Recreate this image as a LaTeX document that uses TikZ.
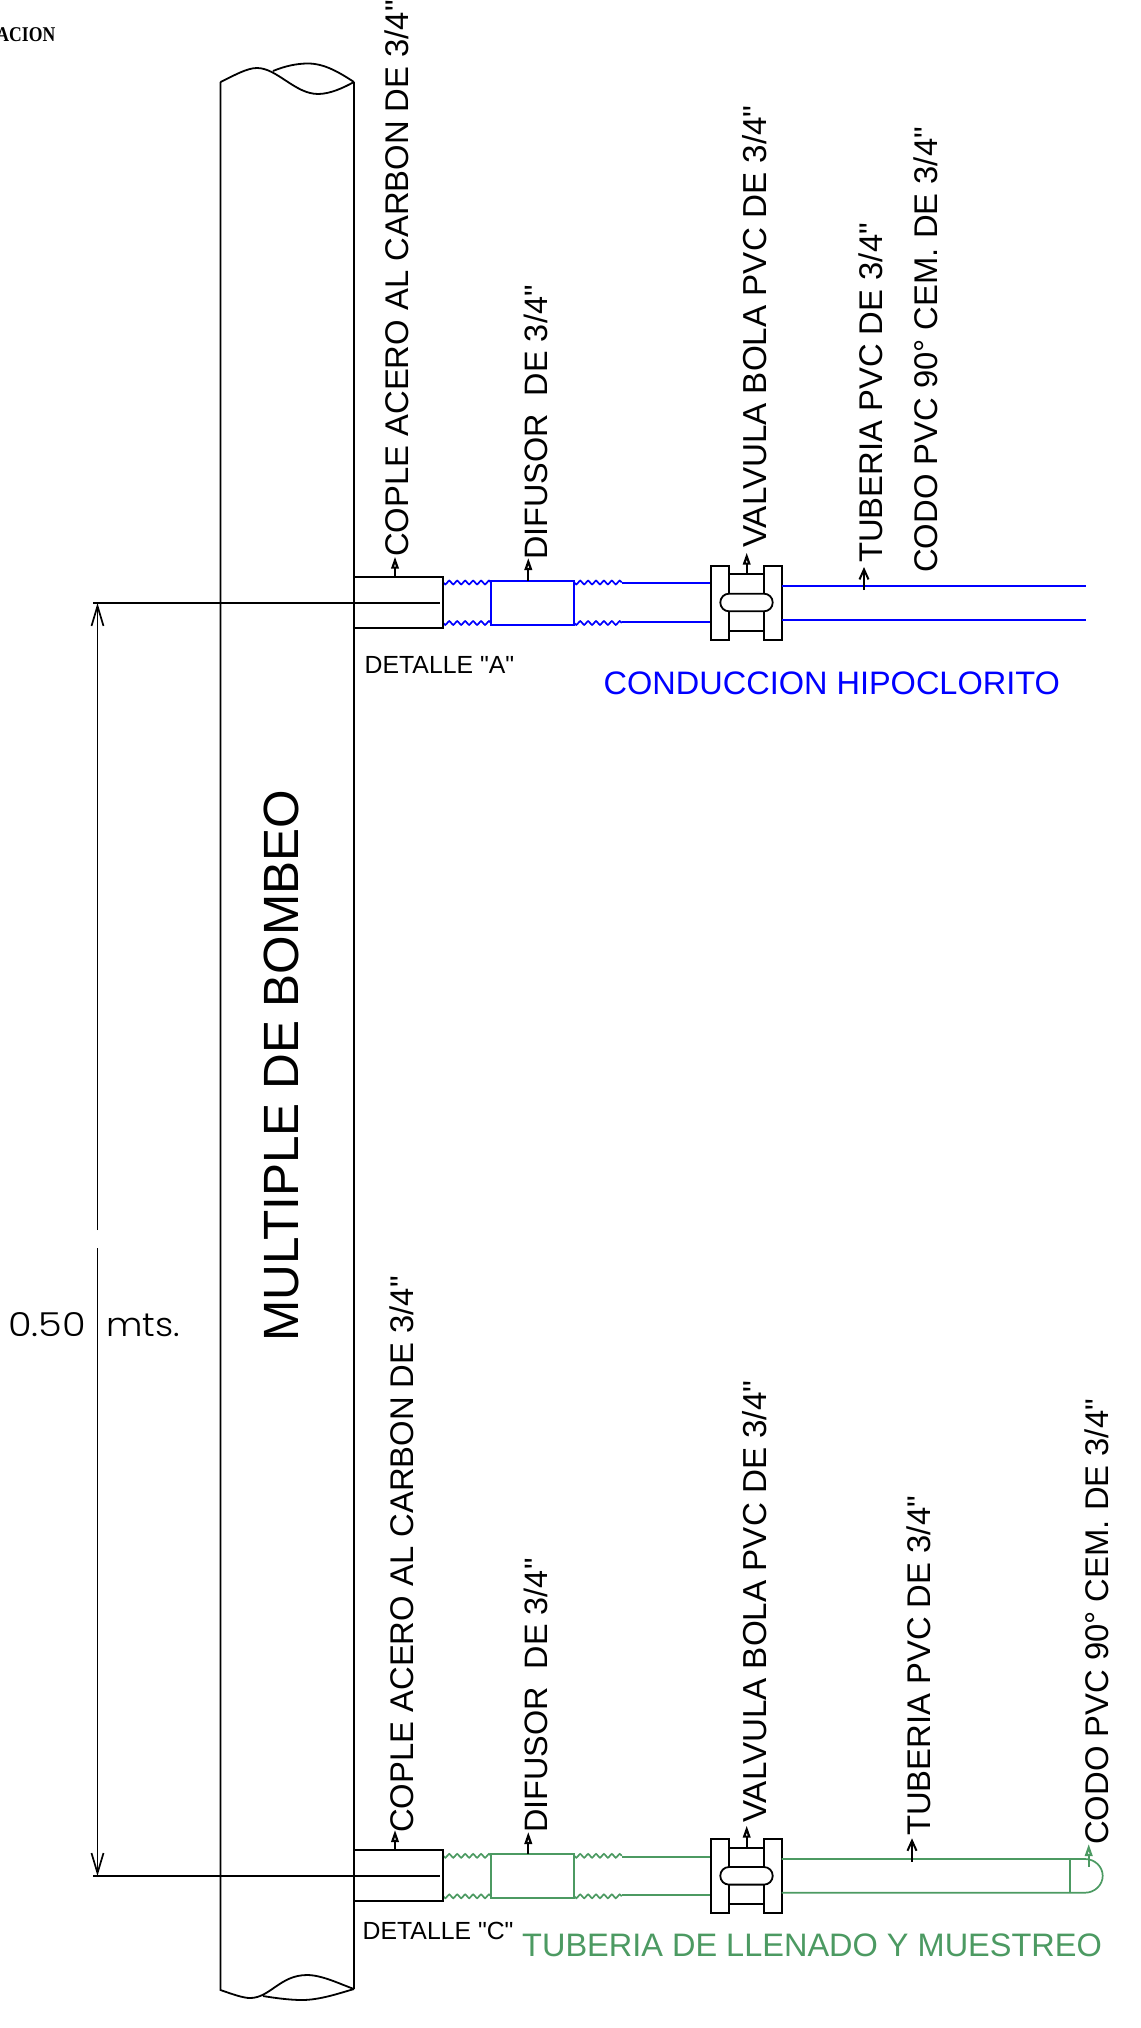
\documentclass[tikz,border=0pt]{standalone}
\usepackage{fontspec}
\usepackage{graphicx}
\newfontfamily\arialf{Liberation Sans}
\setmainfont{Liberation Sans}
\newfontfamily\serifb[BoldFont=Liberation Serif Bold]{Liberation Serif}
\newfontfamily\thinf[UprightFont=* Light]{Poppins}
\usetikzlibrary{arrows.meta}
\definecolor{conduct}{RGB}{0,0,255}
\definecolor{llenado}{RGB}{76,154,98}
\tikzset{
  x=1pt,y=-1pt,
  part/.style={line width=1.8pt,black},
  pipe/.style={line width=1.7pt},
  leader/.style={line width=1.7pt,-{Triangle[open,length=12pt,width=7.5pt,line width=2.2pt]}},
  openlead/.style={line width=1.7pt,-{Straight Barb[length=10pt,width=9pt,line width=2pt]}},
  dimline/.style={line width=1.7pt},
  lbl/.style={inner sep=0pt,rotate=90,anchor=base west,font=\arialf\fontsize{32.8}{33}\selectfont},
  vlbl/.style={lbl,font=\arialf\fontsize{33.2}{34}\selectfont},
  dlbl/.style={lbl,font=\arialf\fontsize{32.4}{33}\selectfont},
  hlbl/.style={inner sep=0pt,anchor=base west,font=\arialf},
}
\newcommand{\threads}[3]{%
  \draw[pipe,#3] plot[smooth,domain=0:1,samples=25] ({#1+(#2-#1)*\x},{0+\thrY+1.9*sin(\x*6*360)});}
\newcommand{\fitting}[2]{%
  \begin{scope}[yshift=-#1pt]
  \def\thrY{582.5}\threads{443.3}{491}{#2}\threads{574.3}{621.7}{#2}
  \def\thrY{623}\threads{443.3}{491}{#2}\threads{574.3}{621.7}{#2}
  \draw[line width=1.9pt,#2] (491,580.7) rectangle (574.3,625);
  \draw[line width=2.1pt,#2] (621.7,583.3) -- (711,583.3) (621.7,621.7) -- (711,621.7);
  \draw[part] (354,577) -- (443.3,577) -- (443.3,628) -- (354,628);
  \draw[part] (729,574.3) -- (764,574.3) (729,630.7) -- (764,630.7);
  \draw[part] (711,565.7) rectangle (729,639.7);
  \draw[part] (764,565.7) rectangle (781.7,639.7);
  \draw[part,fill=white,rounded corners=8.7pt] (720.3,593.7) rectangle (772.7,611.3);
  \end{scope}}
\begin{document}
\begin{tikzpicture}
\useasboundingbox (0,0) rectangle (1140,2028);
% manifold
\draw[part] (220.5,82) .. controls (235,75) and (247,68) .. (257,68) .. controls (277,68) and (295,94) .. (318,94) .. controls (330,94) and (343,88) .. (354,82);
\draw[part] (273,71) .. controls (285,66) and (297,63.5) .. (308,63.5) .. controls (325,63.5) and (340,73) .. (354,82);
\draw[part] (220.5,82) -- (220.5,1990) .. controls (232,1994) and (243,1998) .. (250,1998) .. controls (270,1998) and (280,1975) .. (307,1975) .. controls (322,1975) and (340,1984) .. (354,1989);
\draw[part] (263,1996) .. controls (275,1998) and (290,2000) .. (302,2000) .. controls (320,2000) and (340,1993) .. (354,1989);
\draw[part] (354,82) -- (354,1989);
% fittings
\fitting{0}{conduct}
\fitting{1273.3}{llenado}
% outgoing pipes
\draw[pipe,conduct] (781.7,585.7) -- (1085.7,585.7) (781.7,620) -- (1085.7,620);
\draw[pipe,llenado] (781.7,1859) -- (1085,1859) .. controls (1094.7,1859) and (1102.7,1866.5) .. (1102.7,1875.8) .. controls (1102.7,1885) and (1094.7,1892.7) .. (1085,1892.7) -- (781.7,1892.7);
\draw[pipe,llenado] (1070.3,1859) -- (1070.3,1892.7);
% dimension
\coordinate (dimA) at (93,603);
\coordinate (dimAend) at (440,603);
\coordinate (dimC) at (93,1876);
\coordinate (dimCend) at (440,1876);
\coordinate (dimTop) at (97.5,603);
\coordinate (dimGapA) at (97.5,1230);
\coordinate (dimGapB) at (97.5,1248);
\coordinate (dimBot) at (97.5,1876);
\draw[dimline] (dimA) -- (dimAend);
\draw[dimline] (dimC) -- (dimCend);
\draw[dimline,-{Straight Barb[length=20pt,width=12pt]}] (dimGapA) -- (dimTop);
\draw[dimline,-{Straight Barb[length=20pt,width=12pt]}] (dimGapB) -- (dimBot);
% labels
\node[lbl] (copleA) at (408,557) {COPLE ACERO AL CARBON DE 3/4"};
\node[dlbl] (difA) at (547.3,560) {DIFUSOR\ \ DE 3/4"};
\node[vlbl] (valA) at (766,548) {VALVULA BOLA PVC DE 3/4"};
\node[lbl] (tubA) at (882.3,563) {TUBERIA PVC DE 3/4"};
\node[lbl] (codA) at (937,573) {CODO PVC 90° CEM. DE 3/4"};
\node[lbl] (copleC) at (413.3,1833) {COPLE ACERO AL CARBON DE 3/4"};
\node[dlbl] (difC) at (547.3,1833) {DIFUSOR\ \ DE 3/4"};
\node[vlbl] (valC) at (766,1823) {VALVULA BOLA PVC DE 3/4"};
\node[lbl] (tubC) at (930,1836) {TUBERIA PVC DE 3/4"};
\node[lbl] (codC) at (1108.3,1845) {CODO PVC 90° CEM. DE 3/4"};
\node[lbl,font=\arialf\fontsize{49.5}{50}\selectfont] (mult) at (298,1342) {MULTIPLE DE BOMBEO};
\node[hlbl,font=\arialf\fontsize{24.8}{25}\selectfont] (detA) at (364.5,673.5) {DETALLE "A"};
\node[hlbl,font=\arialf\fontsize{24.8}{25}\selectfont] (detC) at (362.5,1939.5) {DETALLE "C"};
\node[hlbl,font=\arialf\fontsize{32.5}{33}\selectfont,text=conduct] (cond) at (603.5,694.5) {CONDUCCION HIPOCLORITO};
\node[hlbl,font=\arialf\fontsize{32.5}{33}\selectfont,text=llenado] (llen) at (522,1956) {TUBERIA DE LLENADO Y MUESTREO};
\node[inner sep=0pt,anchor=base west,font=\thinf\fontsize{33}{33}\selectfont] (dimv) at (8,1336) {\scalebox{1.16}[1]{0.50}};
\node[inner sep=0pt,anchor=base west,font=\thinf\fontsize{33}{33}\selectfont] (dimu) at (106,1336) {\scalebox{1.08}[1]{mts.}};
\node[inner sep=0pt,anchor=base east,font=\serifb\bfseries\fontsize{21}{21}\selectfont] (title) at (55.5,41.7) {\scalebox{.84}[1]{ACION}};
% leaders
\coordinate (l1) at (395,577);   \coordinate (t1) at (395,556.7);
\coordinate (l2) at (528.3,580.7); \coordinate (t2) at (528.3,558);
\coordinate (l3) at (746.7,574.3); \coordinate (t3) at (746.7,552.7);
\coordinate (l4) at (864,590);   \coordinate (t4) at (864,567);
\coordinate (l5) at (395,1850.3); \coordinate (t5) at (395,1830);
\coordinate (l6) at (528.3,1853.7); \coordinate (t6) at (528.3,1832);
\coordinate (l7) at (746.7,1847.6); \coordinate (t7) at (746.7,1825.7);
\coordinate (l8) at (912,1861.7); \coordinate (t8) at (912,1838.3);
\coordinate (l9) at (1088.7,1866.7); \coordinate (t9) at (1088.7,1844);
\draw[leader] (l1) -- (t1);
\draw[leader] (l2) -- (t2);
\draw[leader] (l3) -- (t3);
\draw[openlead] (l4) -- (t4);
\draw[leader] (l5) -- (t5);
\draw[leader] (l6) -- (t6);
\draw[leader] (l7) -- (t7);
\draw[openlead] (l8) -- (t8);
\draw[leader,llenado] (l9) -- (t9);
\end{tikzpicture}
\end{document}
